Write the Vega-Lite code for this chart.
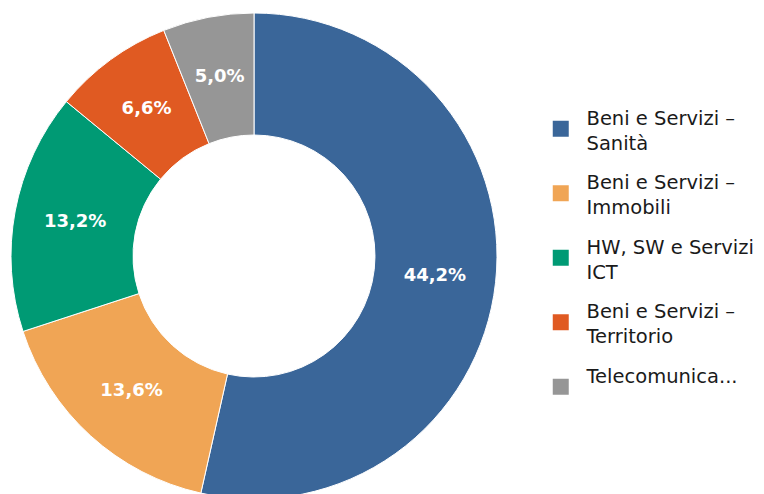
{
  "$schema": "https://vega.github.io/schema/vega-lite/v6.json",
  "width": 486,
  "height": 486,
  "autosize": "none",
  "padding": {"left": 11, "top": 13, "right": 267, "bottom": 0},
  "background": "white",
  "data": {
    "values": [
      {"category": "Beni e Servizi – Sanità", "value": 44.2, "label": "44,2%", "ord": 1},
      {"category": "Beni e Servizi – Immobili", "value": 13.6, "label": "13,6%", "ord": 2},
      {"category": "HW, SW e Servizi ICT", "value": 13.2, "label": "13,2%", "ord": 3},
      {"category": "Beni e Servizi – Territorio", "value": 6.6, "label": "6,6%", "ord": 4},
      {"category": "Telecomunicazioni", "value": 5.0, "label": "5,0%", "ord": 5}
    ]
  },
  "encoding": {
    "theta": {"field": "value", "type": "quantitative", "stack": true},
    "order": {"field": "ord", "type": "quantitative"}
  },
  "layer": [
    {
      "mark": {"type": "arc", "outerRadius": 243, "innerRadius": 121, "stroke": "white", "strokeWidth": 1},
      "encoding": {
        "color": {
          "field": "category",
          "type": "nominal",
          "sort": ["Beni e Servizi – Sanità", "Beni e Servizi – Immobili", "HW, SW e Servizi ICT", "Beni e Servizi – Territorio", "Telecomunicazioni"],
          "scale": {
            "domain": ["Beni e Servizi – Sanità", "Beni e Servizi – Immobili", "HW, SW e Servizi ICT", "Beni e Servizi – Territorio", "Telecomunicazioni"],
            "range": ["#3A6699", "#F0A555", "#009A74", "#E05A22", "#969696"]
          },
          "legend": {
            "orient": "none",
            "legendX": 540,
            "legendY": 106,
            "title": null,
            "symbolType": "square",
            "symbolSize": 256,
            "symbolStrokeWidth": 0,
            "labelFont": "DejaVu Sans",
            "labelFontSize": 19.5,
            "labelColor": "#1a1a1a",
            "labelBaseline": "bottom",
            "labelOffset": 16,
            "labelLimit": 300,
            "rowPadding": 18.5,
            "labelExpr": "datum.label == 'Beni e Servizi – Sanità' ? ['Beni e Servizi –', 'Sanità'] : datum.label == 'Beni e Servizi – Immobili' ? ['Beni e Servizi –', 'Immobili'] : datum.label == 'HW, SW e Servizi ICT' ? ['HW, SW e Servizi', 'ICT'] : datum.label == 'Beni e Servizi – Territorio' ? ['Beni e Servizi –', 'Territorio'] : 'Telecomunica...'"
          }
        }
      }
    },
    {
      "mark": {"type": "text", "radius": 182, "font": "DejaVu Sans", "fontWeight": "bold", "fontSize": 18, "fill": "white"},
      "encoding": {
        "text": {"field": "label", "type": "nominal"}
      }
    }
  ],
  "config": {"view": {"stroke": null}, "style": {"guide-label": {"lineHeight": 25}}}
}
